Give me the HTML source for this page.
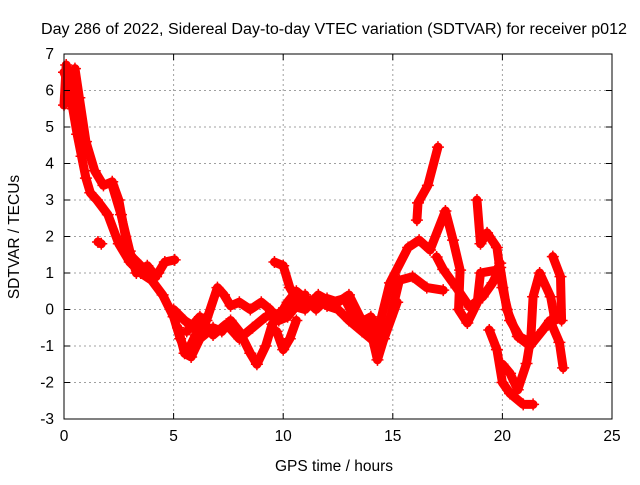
<!DOCTYPE html>
<html><head><meta charset="utf-8"><style>
body{margin:0;background:#fff;width:640px;height:480px;overflow:hidden}
svg text{font-family:"Liberation Sans",sans-serif;font-size:15.5px;fill:#000}
</style></head><body>
<svg id="chart" width="640" height="480" viewBox="0 0 640 480">
<text x="334" y="34" text-anchor="middle" textLength="586" lengthAdjust="spacingAndGlyphs">Day 286 of 2022, Sidereal Day-to-day VTEC variation (SDTVAR) for receiver p012</text>
<text x="334" y="471" text-anchor="middle">GPS time / hours</text>
<text transform="translate(19,237) rotate(-90)" text-anchor="middle">SDTVAR / TECUs</text>
<g id="grid"></g><g id="marks"></g><g id="axes"></g>
</svg>
<script>
const xTicks=[0,5,10,15,20,25];
const yTicks=[-3,-2,-1,0,1,2,3,4,5,6,7];
const trackA_t=[0,0.2,0.4,0.6,0.8,1.0,1.2,1.5,2.0,2.5,3.0,3.5,4.0,4.5,5.0,5.3,5.6,6.0,6.5];
const trackA_v=[6.5,6.2,5.5,4.8,4.2,3.6,3.2,3.0,2.6,1.8,1.3,1.0,0.8,0.4,-0.2,-0.8,-1.2,-0.7,-0.2];
const trackB_t=[0.5,0.7,1.0,1.4,1.8,2.2,2.5,2.8,3.0,3.5,4.0,4.3,4.6,5.05];
const trackB_v=[6.6,5.8,4.6,3.8,3.4,3.5,3.0,2.0,1.5,1.2,0.9,1.0,1.3,1.36];
const trackC_t=[0,0.1,0.3,0.5];
const trackC_v=[5.6,6.7,6.0,5.6];
const trackD_t=[2.2,2.6,3.0,3.3,3.8,4.2];
const trackD_v=[3.4,2.6,1.6,1.0,1.2,0.9];
const trackE_t=[5.2,5.5,5.8,6.2,6.8,7.2,7.6,8.0,8.5,8.8,9.2,9.5,9.8,10.2,10.6,11.0,11.5,12.0,12.5,13.0,13.5,14.0,14.3,14.9,15.3,15.9,16.55,17.3];
const trackE_v=[-0.5,-1.2,-1.3,-0.8,-0.5,-0.6,-0.3,-0.6,-1.2,-1.5,-1.0,-0.4,-0.2,0.2,0.5,0.3,0.0,0.3,0.2,0.4,-0.2,-0.6,-1.38,-0.2,0.8,0.9,0.6,0.53];
const trackF_t=[5.0,5.5,6.0,6.5,7.0,7.3,7.6,8.0,8.5,9.0,9.4,9.8,10.2,10.6,11.0,11.5,12.0,12.5,13.0,13.6,14.2,14.87,15.7,16.2,16.7,17.4,17.75,18.07,18.0,18.4,18.85,19.0,19.75,19.9];
const trackF_v=[0.0,-0.3,-0.5,-0.3,0.6,0.4,0.1,0.2,0.0,0.2,0.0,-0.3,-0.2,0.1,0.2,0.3,0.1,0.0,-0.3,-0.6,-0.9,0.73,1.7,1.9,1.63,2.7,1.9,1.08,0.0,-0.37,0.18,1.0,1.08,1.27];
const trackP_t=[5.6,6.2,6.8,7.4,8.0,8.6,9.2,9.8,10.4,11.0,11.6,12.2,12.8,13.4,14.0,14.6,15.2];
const trackP_v=[-0.6,-0.2,-0.7,-0.4,-0.8,-0.5,-0.2,-0.1,0.1,0.0,0.4,0.2,0.3,-0.4,-0.2,-0.8,0.2];
const trackG_t=[9.6,10.0,10.3,10.7,11.0];
const trackG_v=[1.3,1.2,0.6,0.2,0.4];
const trackH_t=[9.7,10.0,10.3,10.6];
const trackH_v=[-0.6,-1.1,-0.8,-0.3];
const trackI_t=[16.1,16.15,16.6,17.06];
const trackI_v=[2.45,2.92,3.4,4.45];
const trackJ_t=[17.0,17.3,17.9,18.5,19.1,19.55,19.9,20.2,20.7,21.26,21.85,22.17,22.6,22.77];
const trackJ_v=[1.44,1.1,0.6,0.07,0.35,0.73,1.15,0.0,-0.74,-1.0,-0.56,-0.3,-0.9,-1.6];
const trackK_t=[18.84,19.0,19.3,19.75,20.0,20.35,20.8,21.26];
const trackK_v=[3.0,1.8,2.1,1.7,0.6,-0.3,-0.75,-0.9];
const trackL_t=[19.4,19.75,20.0,20.35,20.95,21.4];
const trackL_v=[-0.56,-1.1,-2.0,-2.3,-2.6,-2.6];
const trackM_t=[20.0,20.35,20.7,21.1,21.3,21.4,21.7,22.2,22.4];
const trackM_v=[-1.5,-1.75,-2.2,-1.48,-0.75,0.35,1.0,0.35,-0.3];
const trackN_t=[22.3,22.65,22.7];
const trackN_v=[1.45,0.9,-0.3];
const trackO_t=[1.55,1.7];
const trackO_v=[1.85,1.8];
const tracks=[[trackA_t,trackA_v],[trackB_t,trackB_v],[trackC_t,trackC_v],[trackD_t,trackD_v],[trackE_t,trackE_v],[trackF_t,trackF_v],[trackP_t,trackP_v],[trackG_t,trackG_v],[trackH_t,trackH_v],[trackI_t,trackI_v],[trackJ_t,trackJ_v],[trackK_t,trackK_v],[trackL_t,trackL_v],[trackM_t,trackM_v],[trackN_t,trackN_v],[trackO_t,trackO_v]];
const L=64,R=612,T=54,B=419;
const X=t=>L+(t-0)/25*(R-L);
const Y=v=>B-(v+3)/10*(B-T);
const NS="http://www.w3.org/2000/svg";
function mk(tag,attrs,parent){const e=document.createElementNS(NS,tag);for(const k in attrs)e.setAttribute(k,attrs[k]);parent.appendChild(e);return e;}
const grid=document.getElementById('grid'),axes=document.getElementById('axes'),marks=document.getElementById('marks');
xTicks.forEach(t=>{
 if(t>0&&t<25){const g=mk('line',{x1:X(t),x2:X(t),y1:T,y2:B,stroke:'#a0a0a0','stroke-dasharray':'2,3'},grid);
 
 }
 const tk=mk('text',{x:X(t),y:B+22,'text-anchor':'middle'},axes);tk.textContent=t;
 
 
 mk('line',{x1:X(t),x2:X(t),y1:B,y2:B-6,stroke:'#000'},axes);
 mk('line',{x1:X(t),x2:X(t),y1:T,y2:T+6,stroke:'#000'},axes);
});
yTicks.forEach(v=>{
 if(v>-3&&v<7){const g=mk('line',{x1:L,x2:R,y1:Y(v),y2:Y(v),stroke:'#a0a0a0','stroke-dasharray':'2,3'},grid);
 
 }
 const tk=mk('text',{x:L-10,y:Y(v)+5,'text-anchor':'end'},axes);tk.textContent=v;
 
 
 mk('line',{x1:L,x2:L+6,y1:Y(v),y2:Y(v),stroke:'#000'},axes);
 mk('line',{x1:R,x2:R-6,y1:Y(v),y2:Y(v),stroke:'#000'},axes);
});
const fr=mk('rect',{x:L,y:T,width:R-L,height:B-T,fill:'none',stroke:'#000'},axes);


tracks.forEach(([ts,vs])=>{
 const pts=ts.map((t,i)=>X(t)+','+Y(vs[i])).join(' ');
 const pl=mk('polyline',{points:pts,fill:'none',stroke:'#ff0000','stroke-width':9,'stroke-linejoin':'round','stroke-linecap':'round'},marks);
 
 
 ts.forEach((t,i)=>{
  const x=X(t),y=Y(vs[i]);
  const p=mk('path',{d:`M${x-6},${y}h12M${x},${y-6}v12`,stroke:'#ff0000','stroke-width':1.5},marks);
  
  
 });
});
</script>
</body></html>
